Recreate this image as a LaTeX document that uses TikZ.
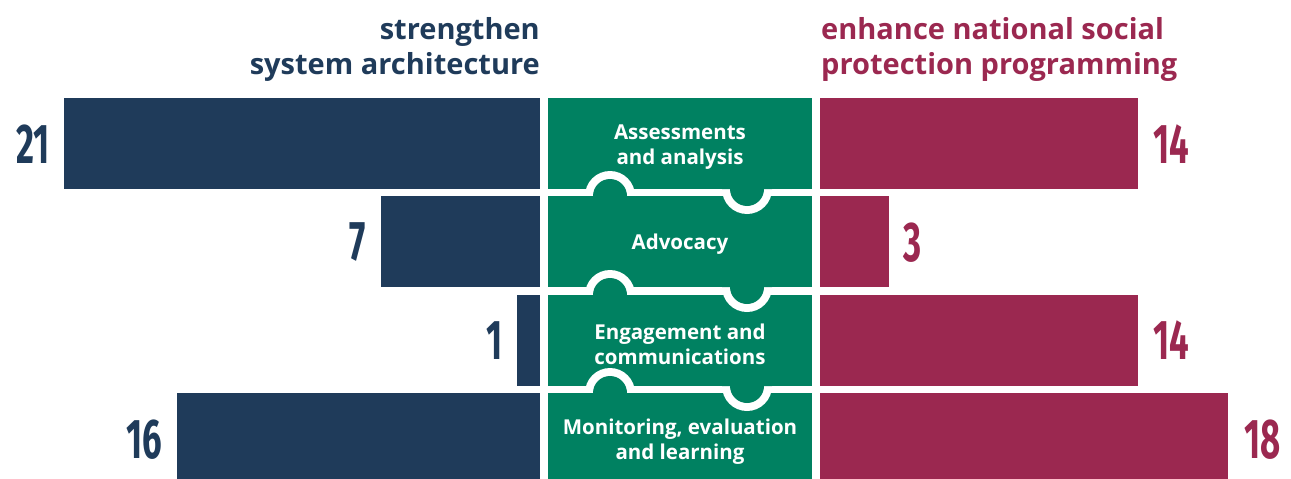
\documentclass[tikz,border=0pt]{standalone}
\usepackage{fontspec}
\setmainfont{Open Sans}
\newfontfamily\numfont[FakeStretch=0.62]{Fira Sans}
\definecolor{sysblue}{RGB}{31,59,90}
\definecolor{actgreen}{RGB}{0,129,97}
\definecolor{progred}{RGB}{155,40,80}
\begin{document}
\begin{tikzpicture}[x=1pt, y=-1pt,
	head/.style={font=\fontsize{29}{35}\selectfont\bfseries, inner sep=0},
	num/.style={font=\numfont\bfseries\fontsize{56}{56}\selectfont, inner sep=0},
	act/.style={font=\fontsize{20.5}{25}\selectfont\bfseries, text=white, align=center, inner sep=0}]
	\useasboundingbox (0,0) rectangle (1291,479);
	% headings
	\node [head, text=sysblue, align=right, anchor=north east] (syshead) at (540,17) {strengthen\\system architecture};
	\node [head, text=progred, align=left, anchor=north west] (proghead) at (821,17) {enhance national social\\protection programming};
	% left bars
	\fill [sysblue] (64,98) rectangle (540,189);
	\fill [sysblue] (381,196) rectangle (540,287);
	\fill [sysblue] (517,295) rectangle (540,386);
	\fill [sysblue] (177,393) rectangle (540,484);
	% right bars
	\fill [progred] (820,98) rectangle (1138,189);
	\fill [progred] (820,196) rectangle (889,287);
	\fill [progred] (820,295) rectangle (1138,386);
	\fill [progred] (820,393) rectangle (1228,484);
	% puzzle pieces
	\fill [actgreen] (548,98) rectangle (812,189);
	\fill [actgreen] (548,196) rectangle (812,287);
	\fill [actgreen] (548,295) rectangle (812,386);
	\fill [actgreen] (548,393) rectangle (812,484);
	% joint 1
	\fill [white] (610,196) circle (25) (747,189) circle (25);
	\fill [actgreen] (585,196) rectangle (635,222) (722,163) rectangle (772,189);
	\fill [actgreen] (610,196) circle (17) (747,189) circle (17);
	% joint 2
	\fill [white] (610,295) circle (25) (747,287) circle (25);
	\fill [actgreen] (585,295) rectangle (635,321) (722,261) rectangle (772,287);
	\fill [actgreen] (610,295) circle (17) (747,287) circle (17);
	% joint 3
	\fill [white] (610,393) circle (25) (747,386) circle (25);
	\fill [actgreen] (585,393) rectangle (635,419) (722,360) rectangle (772,386);
	\fill [actgreen] (610,393) circle (17) (747,386) circle (17);
	% piece labels
	\node [act] (assess) at (680,147) {Assessments\\and analysis};
	\node [act] (advocacy) at (680,244) {Advocacy};
	\node [act] (engage) at (680,344) {Engagement and\\communications};
	\node [act] (monitor) at (680,442) {Monitoring, evaluation\\and learning};
	% numbers
	\node [num, text=sysblue, anchor=east] (sysassess) at (50,144) {21};
	\node [num, text=sysblue, anchor=east] (sysadvocacy) at (366,242.5) {7};
	\node [num, text=sysblue, anchor=east] (sysengage) at (503,340.5) {1};
	\node [num, text=sysblue, anchor=east] (sysmonitor) at (162,439.5) {16};
	\node [num, text=progred, anchor=west] (progassess) at (1153,144) {14};
	\node [num, text=progred, anchor=west] (progadvocacy) at (903,242.5) {3};
	\node [num, text=progred, anchor=west] (progengage) at (1153,340.5) {14};
	\node [num, text=progred, anchor=west] (progmonitor) at (1244,439.5) {18};
\end{tikzpicture}
\end{document}
